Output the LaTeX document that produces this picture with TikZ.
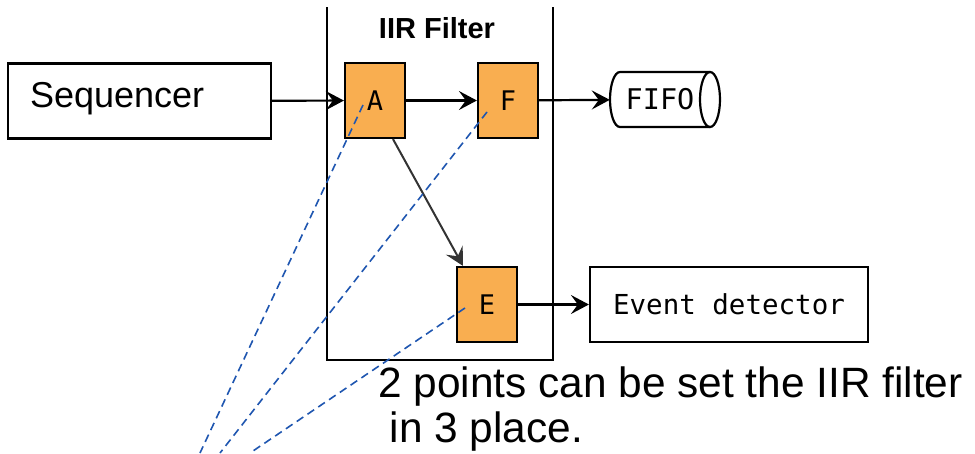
\documentclass[tikz,border=0pt]{standalone}
\usepackage{fontspec}
\setmainfont{Liberation Sans}
\newfontfamily\pixfont{DejaVu Sans Mono}
\usetikzlibrary{arrows.meta,calc}
\definecolor{blockorange}{HTML}{F9AE50}
\definecolor{markblue}{HTML}{1F56B0}

\begin{document}
\begin{tikzpicture}[x=1pt,y=-1pt,
  conn/.style={line width=2.2pt, -{Stealth[length=18pt,width=19pt,inset=7pt]}},
  stage/.style={draw, line width=2.2pt, fill=blockorange, minimum width=60pt,
    minimum height=75pt, inner sep=0pt, font=\pixfont\fontsize{27}{27}\selectfont},
  unit/.style={draw, line width=2.2pt, inner sep=0pt},
  marker/.style={draw=markblue, line width=1.6pt, dash pattern=on 8pt off 5pt}]

\useasboundingbox (0,0) rectangle (975,453);

% source block
\node[unit, minimum width=263pt, minimum height=75pt, inner xsep=22pt,
  text width=219pt, align=left, text height=26pt, text depth=13pt,
  font=\fontsize{36}{36}\selectfont] (seq) at (139.5,101) {Sequencer};

% filter enclosure (open at the top)
\draw[line width=2.2pt] (327,7) -- (327,360) -- (553,360) -- (553,7);
\node[font=\bfseries\fontsize{29}{29}\selectfont] (title) at (437,28) {IIR Filter};

% filter taps
\node[stage] (A) at (375,100.5) {A};
\node[stage] (F) at (508,100.5) {F};
\node[stage] (E) at (487,304.5) {E};

% FIFO cylinder
\node[minimum width=100pt, minimum height=55pt, inner sep=0pt,
  font=\pixfont\fontsize{28.5}{28.5}\selectfont] (fifo) at (660,99.5) {FIFO};
\draw[line width=2.2pt] (710,72) -- (620,72)
  arc[start angle=270, end angle=90, x radius=10, y radius=27.5] -- (710,127);
\draw[line width=2.2pt] (710,99.5) ellipse [x radius=10, y radius=27.5];

% event detector
\node[unit, minimum width=278pt, minimum height=75pt,
  font=\pixfont\fontsize{27.5}{27.5}\selectfont] (ev) at (729,304.5) {Event detector};

% data flow
\draw[conn] (seq) -- (A);
\draw[conn] (A) -- (F);
\draw[conn] (F) -- (fifo);
\draw[conn, draw=black!80, line width=2pt] ([xshift=18pt]A.south) -- ([xshift=-24pt]E.north);
\draw[conn] (E) -- (ev);

% pointers to the three tap points
\coordinate (pA) at (200,453);
\coordinate (pF) at (220,453);
\coordinate (pE) at (250,453);
\draw[marker] ($(A.center)+(-12,4.5)$) -- (pA);
\draw[marker] ($(F.center)+(-21,11.5)$) -- (pF);
\draw[marker] ($(E.center)+(-22,3.5)$) -- (pE);

% note
\node[anchor=base west, align=left, inner sep=0pt,
  font=\fontsize{42.4}{45}\selectfont] (note) at (378,442)
  {2 points can be set the IIR filter\\\hspace{11.5pt}in 3 place.};
\end{tikzpicture}
\end{document}
